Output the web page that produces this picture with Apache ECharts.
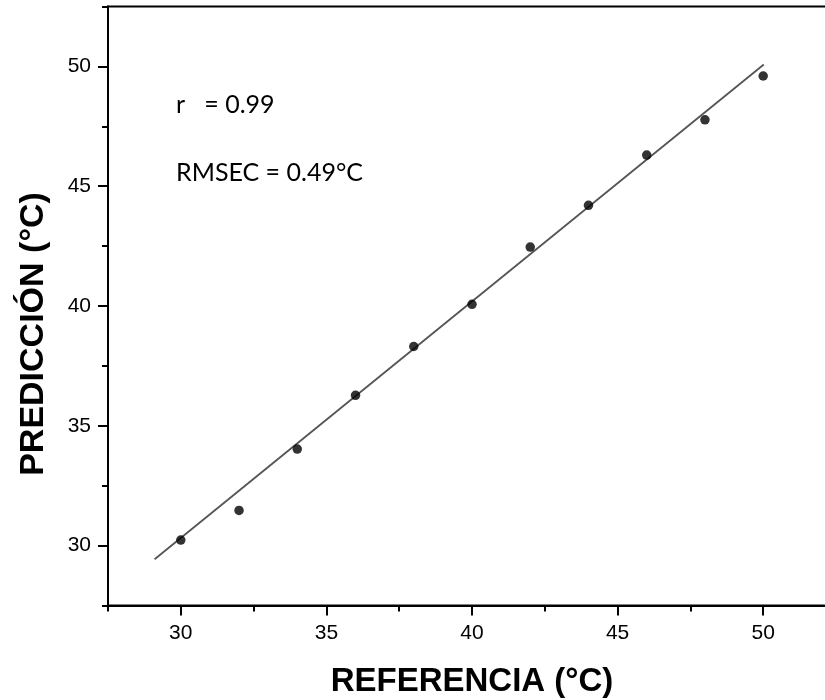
<!DOCTYPE html>
<html>
<head>
<meta charset="utf-8">
<script src="https://cdn.jsdelivr.net/npm/echarts@6/dist/echarts.min.js"></script>
<style>
  html, body { margin: 0; padding: 0; background: #fff; }
  #chart { width: 825px; height: 700px; }
</style>
</head>
<body>
<div id="chart"></div>
<script>
// ---- data ----
const referencia = [30, 32, 34, 36, 38, 40, 42, 44, 46, 48, 50];
const prediccion = [30.23, 31.47, 34.03, 36.27, 38.31, 40.07, 42.46, 44.20, 46.30, 47.77, 49.60];
const fitX = [29.1, 50.02];
const fitY = [29.43, 50.08];
const majorTicks = [30, 35, 40, 45, 50];
const minorTicks = [27.5, 32.5, 37.5, 42.5, 47.5, 52.5];
const annotR = 'r   = 0.99';
const annotRMSEC = 'RMSEC = 0.49°C';
const xTitle = 'REFERENCIA (°C)';
const yTitle = 'PREDICCIÓN (°C)';

const points = referencia.map((x, i) => [x, prediccion[i]]);
const fitLine = fitX.map((x, i) => [x, fitY[i]]);

const chart = echarts.init(document.getElementById('chart'), null, { renderer: 'canvas' });

const labelFont = { fontFamily: 'Liberation Sans, Arial, sans-serif', fontSize: 21, color: '#000' };
const titleFont = { fontFamily: 'Liberation Sans, Arial, sans-serif', fontSize: 33, fontWeight: 'bold', color: '#000' };

function mainAxis(extra) {
  return Object.assign({
    type: 'value', min: 27.5, max: 52.5,
    splitLine: { show: false },
    axisLine: { show: true, onZero: false, lineStyle: { color: '#000', width: 2 } },
    axisTick: { show: true, inside: false, length: 10, lineStyle: { color: '#000', width: 2 }, customValues: majorTicks },
    axisLabel: Object.assign({ customValues: majorTicks, margin: 17 }, labelFont)
  }, extra);
}
function minorAxis(extra) {
  return Object.assign({
    type: 'value', min: 27.5, max: 52.5,
    splitLine: { show: false },
    axisLine: { show: false, onZero: false },
    axisTick: { show: true, inside: false, length: 6, lineStyle: { color: '#000', width: 2 }, customValues: minorTicks },
    axisLabel: { show: false }
  }, extra);
}

chart.setOption({
  animation: false,
  backgroundColor: '#fff',
  grid: {
    left: 108, top: 6.5, width: 728, height: 599,
    outerBoundsMode: 'none', containLabel: false,
    show: true, borderColor: '#000', borderWidth: 2, backgroundColor: 'transparent'
  },
  xAxis: [
    mainAxis({
      position: 'bottom',
      name: xTitle, nameLocation: 'middle', nameGap: 60,
      nameTextStyle: titleFont
    }),
    minorAxis({ position: 'bottom' })
  ],
  yAxis: [
    mainAxis({
      position: 'left',
      name: yTitle, nameLocation: 'middle', nameGap: 57,
      nameTextStyle: Object.assign({ padding: [0, 56, 0, 0] }, titleFont, { fontSize: 34 })
    }),
    minorAxis({ position: 'left' })
  ],
  series: [
    {
      type: 'line',
      data: fitLine,
      xAxisIndex: 0, yAxisIndex: 0,
      symbol: 'none',
      lineStyle: { color: '#555', width: 1.8 },
      silent: true,
      z: 2
    },
    {
      type: 'scatter',
      data: points,
      xAxisIndex: 0, yAxisIndex: 0,
      symbol: 'circle',
      symbolSize: 9.5,
      itemStyle: { color: '#000' },
      z: 3
    }
  ],
  graphic: [
    {
      type: 'text', x: 176, y: 105,
      style: { text: annotR, fontFamily: 'Lato, Open Sans, sans-serif', fontSize: 25, fill: '#000', verticalAlign: 'middle', align: 'left' }
    },
    {
      type: 'text', x: 176, y: 173,
      style: { text: annotRMSEC, fontFamily: 'Lato, Open Sans, sans-serif', fontSize: 25, fill: '#000', verticalAlign: 'middle', align: 'left' }
    }
  ]
});
</script>
</body>
</html>
